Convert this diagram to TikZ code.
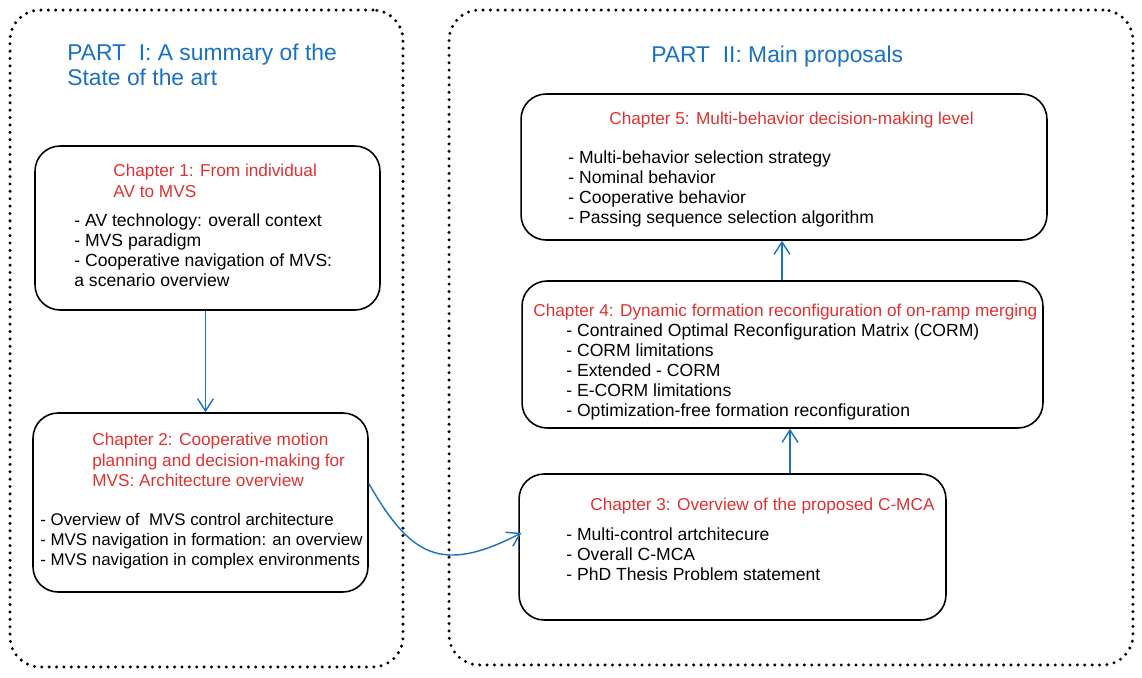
\documentclass[tikz,border=0pt]{standalone}
\usepackage{fontspec}
\setmainfont{Liberation Sans}
\usepackage{tikz}
\usetikzlibrary{calc,positioning,arrows.meta}
\definecolor{partblue}{HTML}{1971C2}
\definecolor{chapred}{HTML}{E03131}
\begin{document}
\begin{tikzpicture}[x=0.02cm,y=-0.02cm,>={Straight Barb[length=7pt,width=9pt]}]
      \tikzset{
	  partbox/.style={draw, line width=1.9pt, line cap=round, dash pattern=on 0pt off 4.2pt, rounded corners=0.6cm, inner sep=0pt},
	  chapbox/.style={draw, line width=0.9pt, rounded corners=0.5cm, inner sep=0pt},
	  parttitle/.style={anchor=north west, align=left, inner sep=0pt, text=partblue, font=\fontsize{13}{14.2}\selectfont},
	  chaptitle/.style={anchor=north west, align=left, inner sep=0pt, text=chapred, font=\fontsize{9.8}{11.6}\selectfont},
	  items/.style={anchor=north west, align=left, inner sep=0pt, font=\fontsize{10}{11.4}\selectfont},
	  link/.style={partblue, line width=0.8pt, ->}
      }
      \useasboundingbox (0,0) rectangle (1142,677);

      %-----the two parts
      \node[partbox, minimum width=7.86cm, minimum height=13.14cm] (p1) at (206.5,338.5) {};
      \node[partbox, minimum width=13.68cm, minimum height=13.1cm] (p2) at (791,337.5) {};
      \node[parttitle] (p1t) at (67,44) {PART\ \ I: A summary of the\\State of the art};
      \node[parttitle] (p2t) at (651,46) {PART\ \ II: Main proposals};

      %-----chapter boxes
      \node[chapbox, minimum width=6.9cm, minimum height=3.28cm] (c1) at (207.5,228) {};
      \node[chaptitle] (c1t) at (113,164) {Chapter 1: From individual\\AV to MVS};
      \node[items] (c1l) at (74,213) {- AV technology: overall context\\- MVS paradigm\\- Cooperative navigation of MVS:\\a scenario overview};

      \node[chapbox, minimum width=6.7cm, minimum height=3.58cm] (c2) at (200.5,502.5) {};
      \node[chaptitle] (c2t) at (92,433) {Chapter 2: Cooperative motion\\planning and decision-making for\\MVS: Architecture overview};
      \node[items, font=\fontsize{9.6}{11.4}\selectfont] (c2l) at (40,513) {- Overview of\ \ MVS control architecture\\- MVS navigation in formation: an overview\\- MVS navigation in complex environments};

      \node[chapbox, minimum width=8.54cm, minimum height=2.92cm] (c3) at (732.5,547) {};
      \node[chaptitle] (c3t) at (590,498) {Chapter 3: Overview of the proposed C-MCA};
      \node[items] (c3l) at (566,527) {- Multi-control artchitecure\\- Overall C-MCA\\- PhD Thesis Problem statement};

      \node[chapbox, minimum width=10.42cm, minimum height=2.94cm] (c4) at (782.5,354.5) {};
      \node[chaptitle] (c4t) at (533,304) {Chapter 4: Dynamic formation reconfiguration of on-ramp merging};
      \node[items] (c4l) at (566,323) {- Contrained Optimal Reconfiguration Matrix (CORM)\\- CORM limitations\\- Extended - CORM\\- E-CORM limitations\\- Optimization-free formation reconfiguration};

      \node[chapbox, minimum width=10.52cm, minimum height=2.92cm] (c5) at (784,167) {};
      \node[chaptitle] (c5t) at (609,112) {Chapter 5: Multi-behavior decision-making level};
      \node[items] (c5l) at (568,150) {- Multi-behavior selection strategy\\- Nominal behavior\\- Cooperative behavior\\- Passing sequence selection algorithm};

      %-----links
      \coordinate (a1) at ($(c1.south)+(-2,0)$);
      \coordinate (a2) at ($(c2.east)+(0,-19)$);
      \coordinate (a3) at ($(c3.west)+(3,-14)$);
      \coordinate (a4) at ($(c3.north)+(57.5,0)$);
      \coordinate (a5) at ($(c4.north)+(-0.5,0)$);
      \draw[link] (a1) -- (a1 |- c2.north);
      \draw[link] (a2) .. controls (410,555) and (440,575) .. (a3);
      \draw[link] (a4) -- (a4 |- c4.south);
      \draw[link] (a5) -- (a5 |- c5.south);
\end{tikzpicture}
\end{document}
